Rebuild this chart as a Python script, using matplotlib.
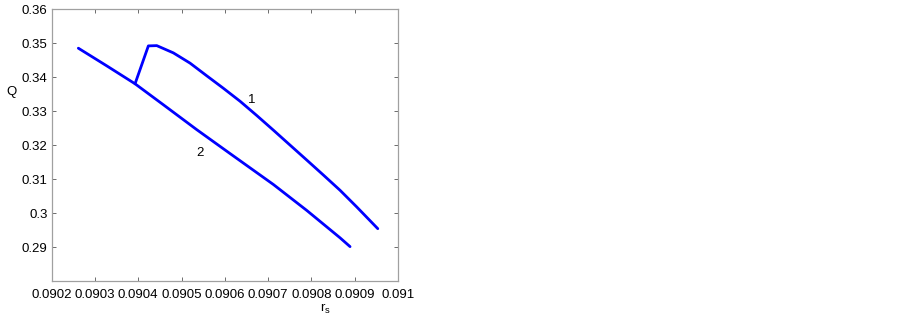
import matplotlib
matplotlib.use("Agg")
import matplotlib.pyplot as plt

plt.rcParams['font.family'] = ['Liberation Sans', 'DejaVu Sans']

# Curve 1
r1 = [0.0903926, 0.0904234, 0.0904428, 0.0904812, 0.0905198, 0.0905584,
      0.0905968, 0.0906354, 0.090674, 0.0907124, 0.090751, 0.0907896,
      0.090828, 0.0908666, 0.0909052, 0.0909538]
q1 = [0.33807, 0.34923, 0.34931, 0.34717, 0.34415, 0.34042,
      0.33675, 0.33293, 0.32873, 0.32442, 0.32001, 0.31561,
      0.3112, 0.30671, 0.3018, 0.29541]
# Curve 2
r2 = [0.0902615, 0.0903272, 0.0903926, 0.090458, 0.0905353, 0.0906123,
      0.0907124, 0.0907896, 0.0908666, 0.0908897]
q2 = [0.34855, 0.34335, 0.33807, 0.3319, 0.32456, 0.31752,
      0.30842, 0.30078, 0.29271, 0.29012]

xticks = [0.0902, 0.0903, 0.0904, 0.0905, 0.0906, 0.0907, 0.0908, 0.0909, 0.091]
xticklabels = ['0.0902', '0.0903', '0.0904', '0.0905', '0.0906', '0.0907', '0.0908', '0.0909', '0.091']
yticks = [0.29, 0.30, 0.31, 0.32, 0.33, 0.34, 0.35, 0.36]
yticklabels = ['0.29', '0.3', '0.31', '0.32', '0.33', '0.34', '0.35', '0.36']

fig = plt.figure(figsize=(9.03, 3.19), dpi=100)
ax = fig.add_axes([0.0573, 0.1191, 0.3832, 0.8517])

ax.plot(r1, q1, color='#0000ff', lw=2.0, solid_capstyle='round', solid_joinstyle='round')
ax.plot(r2, q2, color='#0000ff', lw=2.0, solid_capstyle='round', solid_joinstyle='round')

ax.text(0.090662, 0.33337, '1', fontsize=9.5, ha='center', va='center')
ax.text(0.090543, 0.31772, '2', fontsize=9.5, ha='center', va='center')

ax.set_xlim(0.0902, 0.091)
ax.set_ylim(0.28, 0.36)
ax.set_xticks(xticks)
ax.set_xticklabels(xticklabels)
ax.set_yticks(yticks)
ax.set_yticklabels(yticklabels)
ax.tick_params(direction='in', length=3, width=0.6, color='#555555', labelsize=9.5,
               top=True, right=True)
ax.tick_params(axis='x', pad=6)
ax.tick_params(axis='y', pad=3)
for s in ax.spines.values():
    s.set_color('#a0a0a0')
    s.set_linewidth(0.9)

ax.set_xlabel('r$_\\mathregular{s}$', fontsize=9.5)
ax.xaxis.set_label_coords(0.79, -0.078)
ax.set_ylabel('Q', fontsize=9.5, rotation=0, va='center', ha='center')
ax.yaxis.set_label_coords(-0.115, 0.697)

fig.savefig('out.png', dpi=100)
